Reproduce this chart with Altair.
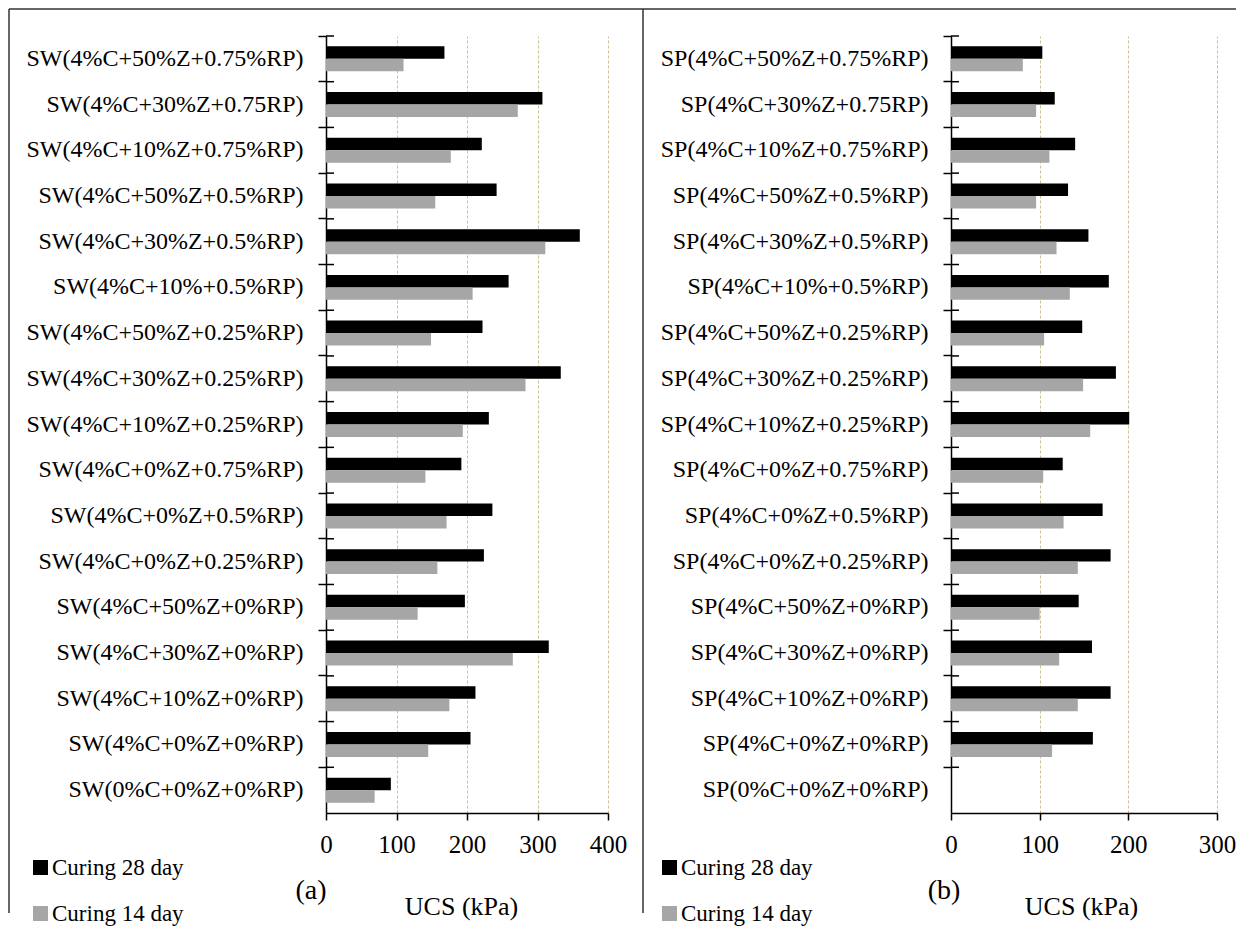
import altair as alt
import pandas as pd

series = ["Curing 28 day", "Curing 14 day"]
colors = ["#000000", "#a6a6a6"]

sw_cats = [
    "SW(4%C+50%Z+0.75%RP)", "SW(4%C+30%Z+0.75RP)", "SW(4%C+10%Z+0.75%RP)",
    "SW(4%C+50%Z+0.5%RP)", "SW(4%C+30%Z+0.5%RP)", "SW(4%C+10%+0.5%RP)",
    "SW(4%C+50%Z+0.25%RP)", "SW(4%C+30%Z+0.25%RP)", "SW(4%C+10%Z+0.25%RP)",
    "SW(4%C+0%Z+0.75%RP)", "SW(4%C+0%Z+0.5%RP)", "SW(4%C+0%Z+0.25%RP)",
    "SW(4%C+50%Z+0%RP)", "SW(4%C+30%Z+0%RP)", "SW(4%C+10%Z+0%RP)",
    "SW(4%C+0%Z+0%RP)", "SW(0%C+0%Z+0%RP)",
]
sw_28 = [168, 307, 221, 242, 360, 259, 222, 333, 231, 192, 236, 224, 197, 316, 212, 205, 92]
sw_14 = [110, 272, 177, 155, 311, 208, 149, 283, 194, 141, 171, 158, 130, 265, 175, 145, 69]

sp_cats = [
    "SP(4%C+50%Z+0.75%RP)", "SP(4%C+30%Z+0.75RP)", "SP(4%C+10%Z+0.75%RP)",
    "SP(4%C+50%Z+0.5%RP)", "SP(4%C+30%Z+0.5%RP)", "SP(4%C+10%+0.5%RP)",
    "SP(4%C+50%Z+0.25%RP)", "SP(4%C+30%Z+0.25%RP)", "SP(4%C+10%Z+0.25%RP)",
    "SP(4%C+0%Z+0.75%RP)", "SP(4%C+0%Z+0.5%RP)", "SP(4%C+0%Z+0.25%RP)",
    "SP(4%C+50%Z+0%RP)", "SP(4%C+30%Z+0%RP)", "SP(4%C+10%Z+0%RP)",
    "SP(4%C+0%Z+0%RP)", "SP(0%C+0%Z+0%RP)",
]
sp_28 = [103, 117, 140, 132, 155, 178, 148, 186, 201, 126, 171, 180, 144, 159, 180, 160, None]
sp_14 = [81, 96, 111, 96, 119, 134, 105, 149, 157, 104, 127, 143, 100, 122, 143, 114, None]

x_title = "UCS (kPa)"
FONT = "Liberation Serif"
GRID = "#cfc196"
FRAME = "#333333"


def panel(cats, v28, v14, xmax, width, tag, tag_x, leg_x, title_x, frame=False):
    rows = []
    for c, a, b in zip(cats, v28, v14):
        rows.append({"cat": c, "series": series[0], "ucs": a})
        rows.append({"cat": c, "series": series[1], "ucs": b})
    df = pd.DataFrame(rows)

    yscale = alt.Scale(domain=cats, paddingInner=0, paddingOuter=0)
    bars = alt.Chart(df).mark_bar().encode(
        x=alt.X(
            "ucs:Q",
            scale=alt.Scale(domain=[0, xmax], nice=False, zero=True),
            axis=alt.Axis(
                values=list(range(0, xmax + 1, 100)),
                grid=True, gridDash=[3, 2], gridColor=GRID, gridWidth=1,
                title=x_title, titleX=title_x, titleY=101,
                titleBaseline="alphabetic", titleAlign="center",
                titleFont=FONT, titleFontSize=26, titleFontWeight="normal",
                titleColor="black",
                labelFont=FONT, labelFontSize=25, labelColor="black",
                labelFlush=False, labelOverlap=False,
                tickSize=7, labelPadding=12,
                domainColor="black", domainWidth=1.5, tickColor="black", tickWidth=1.5,
            ),
        ),
        y=alt.Y(
            "cat:N", sort=cats, scale=yscale,
            axis=alt.Axis(
                title=None, bandPosition=0, tickSize=8, labelPadding=15,
                labelLimit=400, labelFont=FONT, labelFontSize=24, labelColor="black",
                domainColor="black", domainWidth=1.5, tickColor="black", tickWidth=1.5,
            ),
        ),
        yOffset=alt.YOffset(
            "series:N", sort=series,
            scale=alt.Scale(domain=series, paddingInner=0, paddingOuter=0.83),
        ),
        color=alt.Color(
            "series:N", sort=series,
            scale=alt.Scale(domain=series, range=colors),
            legend=alt.Legend(
                orient="none", legendX=leg_x, legendY=820, title=None,
                labelFont=FONT, labelFontSize=23, labelColor="black",
                symbolType="square", symbolSize=225, symbolStrokeWidth=0,
                labelOffset=0, rowPadding=22, padding=0,
            ),
        ),
    )

    tick_df = pd.DataFrame({"cat": cats})
    ticks_in = alt.Chart(tick_df).mark_rule(color="black", strokeWidth=1.5).encode(
        y=alt.Y("cat:N", sort=cats, bandPosition=0),
        x=alt.value(0), x2=alt.value(8),
    )

    tag_df = pd.DataFrame({"t": [tag]})
    tag_text = alt.Chart(tag_df).mark_text(
        font=FONT, fontSize=28, align="center", baseline="alphabetic", color="black"
    ).encode(text="t:N", x=alt.value(tag_x), y=alt.value(863))

    layers = [bars, ticks_in, tag_text]
    if frame:
        fdf = pd.DataFrame({"k": [0]})
        base = alt.Chart(fdf).mark_rule(color=FRAME, strokeWidth=1.5)
        layers.append(base.encode(x=alt.value(-317), y=alt.value(-27), y2=alt.value(877)))
        layers.append(base.encode(x=alt.value(-317), x2=alt.value(910), y=alt.value(-27)))
        layers.append(base.encode(x=alt.value(317), y=alt.value(-27), y2=alt.value(877)))

    return alt.layer(*layers).properties(width=width, height=777)


pa = panel(sw_cats, sw_28, sw_14, 400, 282, "(a)", -15, -297, 135, frame=True)
pb = panel(sp_cats, sp_28, sp_14, 300, 266, "(b)", -7, -293, 130)

chart = (
    alt.hconcat(pa, pb, spacing=343, bounds="flush")
    .resolve_scale(x="independent", y="independent", color="independent", yOffset="independent")
    .resolve_legend(color="independent")
    .properties(padding=0)
    .configure(font=FONT)
    .configure_view(stroke=None)
)

chart.save("out.html", embed_options={"renderer": "svg", "actions": False})
